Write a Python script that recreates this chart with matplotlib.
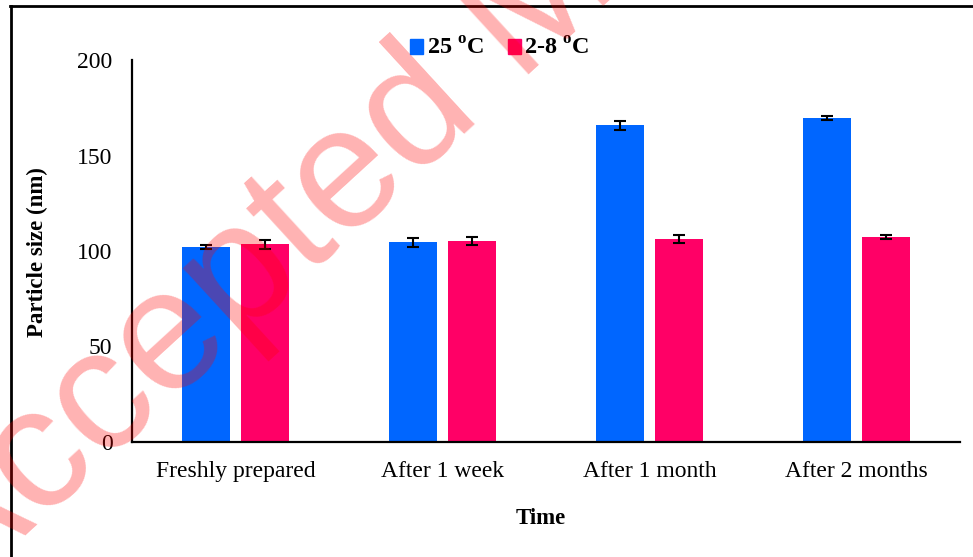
import matplotlib
matplotlib.use("Agg")
import matplotlib.pyplot as plt
from matplotlib.patches import Patch
from matplotlib.lines import Line2D
import numpy as np

plt.rcParams["font.family"] = ["Liberation Serif", "DejaVu Serif"]
plt.rcParams["mathtext.fontset"] = "custom"
plt.rcParams["mathtext.rm"] = "Liberation Serif"
plt.rcParams["mathtext.bf"] = "Liberation Serif:bold"

# data
times = ["Freshly prepared", "After 1 week", "After 1 month", "After 2 months"]
size_25 = [102.3, 104.5, 165.8, 169.6]
err_25 = [1.0, 2.3, 2.4, 1.1]
size_cold = [103.5, 105.2, 106.1, 107.3]
err_cold = [2.5, 2.1, 2.1, 1.2]
labels = [r"25 $^{\mathbf{o}}$C", r"2-8 $^{\mathbf{o}}$C"]
blue = "#0066FF"
pink = "#FF0066"

fig = plt.figure(figsize=(9.73, 5.57), dpi=100)
ax = fig.add_axes([132/973, 1-442/557, 828/973, 382/557])

x = np.arange(len(times))
w = 0.232
off = 0.1425
ax.bar(x - off, size_25, w, color=blue, yerr=err_25, capsize=4.3,
       error_kw=dict(ecolor="black", elinewidth=1.5, capthick=1.5))
ax.bar(x + off, size_cold, w, color=pink, yerr=err_cold, capsize=4.3,
       error_kw=dict(ecolor="black", elinewidth=1.5, capthick=1.5))

ax.set_xlim(-0.5, 3.5)
ax.set_ylim(0, 200)
ax.set_yticks([0, 50, 100, 150, 200])
ax.set_xticks(x)
ax.set_xticklabels(times)
ax.tick_params(axis="both", length=0, labelsize=17)
ax.tick_params(axis="y", pad=14)
ax.tick_params(axis="x", pad=14)
for s in ["top", "right"]:
    ax.spines[s].set_visible(False)
for s in ["left", "bottom"]:
    ax.spines[s].set_linewidth(1.6)
    ax.spines[s].set_color("black")

fig.text(37/973, 1-252/557, "Particle size (nm)", rotation=90, ha="center",
         va="center", fontsize=16.5, fontweight="bold")
fig.text(541/973, 1-518/557, "Time", ha="center", va="center",
         fontsize=16.5, fontweight="bold")

handles = [Patch(color=blue), Patch(color=pink)]
fig.legend(handles, labels, loc="center", bbox_to_anchor=(500/973, 1-49/557),
           ncol=2, frameon=False, handlelength=0.52, handleheight=0.6,
           handletextpad=0.15, columnspacing=1.0,
           prop=dict(size=17.5, weight="bold"))

# outer frame
fig.add_artist(Line2D([10/973, 1], [1-6/557, 1-6/557], color="black", lw=2))
fig.add_artist(Line2D([11/973, 11/973], [0, 1-6/557], color="black", lw=2))

# watermark
fig.text(-46/973, 1-601/557, "Accepted Manuscript", rotation=42.5,
         ha="left", va="baseline", rotation_mode="anchor",
         family="Liberation Sans", fontsize=124, color="red", alpha=0.3,
         zorder=10)

fig.savefig("out.png", dpi=100)
